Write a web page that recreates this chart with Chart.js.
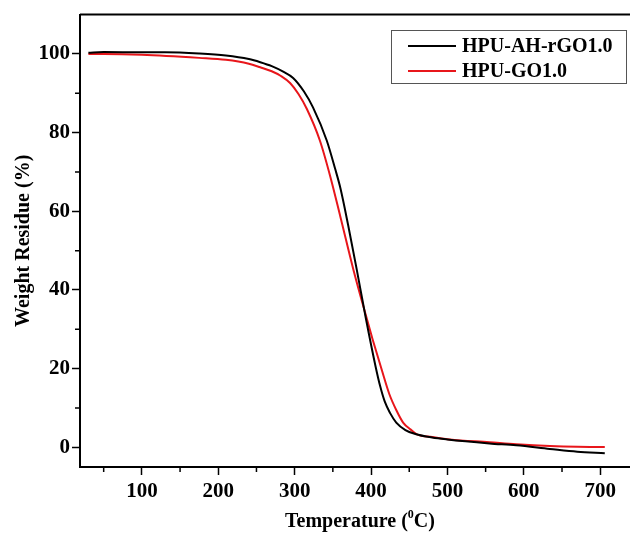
<!DOCTYPE html>
<html>
<head>
<meta charset="utf-8">
<script src="https://cdn.jsdelivr.net/npm/chart.js@4.4.1/dist/chart.umd.min.js"></script>
<style>
  html, body { margin: 0; padding: 0; background: #fff; overflow: hidden; }
  #wrap { width: 630px; height: 535px; }
</style>
</head>
<body>
<div id="wrap"><canvas id="tga"></canvas></div>
<script>
// TGA curves: temperature (°C) -> weight residue (%)
const blackTemps = [30, 50, 100, 130, 175, 210, 240, 255, 270, 285, 298, 312, 324, 342, 353, 360, 370, 381, 393, 406, 412, 418, 425, 433, 445, 458, 480, 500, 555, 590, 634, 670, 706];
const blackWeight = [100.3, 100.5, 100.4, 100.4, 100.1, 99.6, 98.7, 97.9, 96.9, 95.5, 93.9, 90.5, 86.4, 78, 70.8, 65.8, 56.5, 45.5, 33, 20.5, 15.5, 11.6, 8.7, 6.3, 4.4, 3.4, 2.5, 2.0, 1.0, 0.5, -0.4, -1.1, -1.5];

const redTemps = [30, 50, 100, 175, 210, 240, 255, 270, 282, 294, 305, 316, 333, 346, 360, 377, 389, 402, 414, 424, 433, 442, 452, 460, 480, 503, 555, 590, 634, 670, 706];
const redWeight = [100, 100, 99.8, 99.0, 98.5, 97.5, 96.6, 95.6, 94.4, 92.6, 89.8, 86.0, 78, 69.3, 58.5, 45.1, 36.5, 27.5, 19.7, 13.5, 9.5, 6.3, 4.5, 3.3, 2.6, 2.0, 1.3, 0.8, 0.35, 0.15, 0.1];

const seriesLabels = ['HPU-AH-rGO1.0', 'HPU-GO1.0'];
const seriesColors = ['#000000', '#e8161b'];

const xTicks = [100, 200, 300, 400, 500, 600, 700];
const xMinorTicks = [50, 150, 250, 350, 450, 550, 650];
const yTicks = [0, 20, 40, 60, 80, 100];
const yMinorTicks = [10, 30, 50, 70, 90];

const serif = '"Liberation Serif", "Times New Roman", serif';

const toPoints = (xs, ys) => xs.map((x, i) => ({ x, y: ys[i] }));

// top frame line, minor ticks, x title with superscript, boxed legend
const framePlugin = {
    id: 'frame',
    afterDraw(chart) {
        const { ctx, chartArea, scales } = chart;
        ctx.save();
        ctx.strokeStyle = '#000';
        ctx.lineWidth = 2;
        ctx.beginPath();
        ctx.moveTo(chartArea.left, chartArea.top);
        ctx.lineTo(chartArea.right, chartArea.top);
        ctx.stroke();

        ctx.lineWidth = 1.5;
        ctx.beginPath();
        xMinorTicks.forEach((v) => {
            const px = scales.x.getPixelForValue(v);
            ctx.moveTo(px, chartArea.bottom);
            ctx.lineTo(px, chartArea.bottom + 5);
        });
        yMinorTicks.forEach((v) => {
            const py = scales.y.getPixelForValue(v);
            ctx.moveTo(chartArea.left, py);
            ctx.lineTo(chartArea.left - 5, py);
        });
        ctx.stroke();

        // x axis title: Temperature (⁰C)
        ctx.fillStyle = '#000';
        ctx.textBaseline = 'alphabetic';
        const big = 'bold 20px ' + serif;
        const small = 'bold 12px ' + serif;
        const partA = 'Temperature (';
        const partB = '0';
        const partC = 'C)';
        ctx.font = big;
        const wA = ctx.measureText(partA).width;
        const wC = ctx.measureText(partC).width;
        ctx.font = small;
        const wB = ctx.measureText(partB).width;
        let tx = 360 - (wA + wB + wC) / 2;
        const base = 527;
        ctx.font = big;
        ctx.fillText(partA, tx, base);
        tx += wA;
        ctx.font = small;
        ctx.fillText(partB, tx, base - 9);
        tx += wB;
        ctx.font = big;
        ctx.fillText(partC, tx, base);

        // legend box
        ctx.strokeStyle = '#555';
        ctx.lineWidth = 1;
        ctx.strokeRect(391.5, 30.5, 235, 53);
        ctx.font = 'bold 20px ' + serif;
        ctx.textBaseline = 'middle';
        chart.data.datasets.forEach((ds, i) => {
            const y = 46 + i * 25;
            ctx.strokeStyle = ds.borderColor;
            ctx.lineWidth = 2;
            ctx.beginPath();
            ctx.moveTo(408, y);
            ctx.lineTo(456, y);
            ctx.stroke();
            ctx.fillText(ds.label, 462, y + 1);
        });
        ctx.restore();
    },
};

new Chart(document.getElementById('tga'), {
    type: 'line',
    data: {
        datasets: [
            {
                label: seriesLabels[0],
                data: toPoints(blackTemps, blackWeight),
                borderColor: seriesColors[0],
                borderWidth: 2,
                pointRadius: 0,
                cubicInterpolationMode: 'monotone',
            },
            {
                label: seriesLabels[1],
                data: toPoints(redTemps, redWeight),
                borderColor: seriesColors[1],
                borderWidth: 2,
                pointRadius: 0,
                cubicInterpolationMode: 'monotone',
            },
        ],
    },
    options: {
        responsive: true,
        maintainAspectRatio: false,
        animation: false,
        layout: { padding: { top: 14, right: 0, left: 0, bottom: 0 } },
        plugins: {
            legend: { display: false },
            tooltip: { enabled: false },
        },
        scales: {
            x: {
                type: 'linear',
                min: 19,
                max: 739,
                afterFit(scale) { scale.height = 68; },
                afterBuildTicks(scale) { scale.ticks = xTicks.map((v) => ({ value: v })); },
                grid: { drawOnChartArea: false, drawTicks: true, tickLength: 8, tickWidth: 1.5, tickColor: '#000' },
                border: { display: true, color: '#000', width: 2 },
                ticks: {
                    autoSkip: false,
                    maxRotation: 0,
                    padding: 4,
                    color: '#000',
                    font: { family: serif, size: 21, weight: 'bold' },
                },
                title: { display: false },
            },
            y: {
                min: -5,
                max: 110,
                afterFit(scale) { scale.width = 80; },
                afterBuildTicks(scale) { scale.ticks = yTicks.map((v) => ({ value: v })); },
                grid: { drawOnChartArea: false, drawTicks: true, tickLength: 8, tickWidth: 1.5, tickColor: '#000' },
                border: { display: true, color: '#000', width: 2 },
                ticks: {
                    autoSkip: false,
                    padding: 2,
                    color: '#000',
                    font: { family: serif, size: 21, weight: 'bold' },
                },
                title: {
                    display: true,
                    text: 'Weight Residue (%)',
                    color: '#000',
                    font: { family: serif, size: 20, weight: 'bold' },
                    padding: { top: 12, bottom: 0 },
                },
            },
        },
    },
    plugins: [framePlugin],
});
</script>
</body>
</html>
